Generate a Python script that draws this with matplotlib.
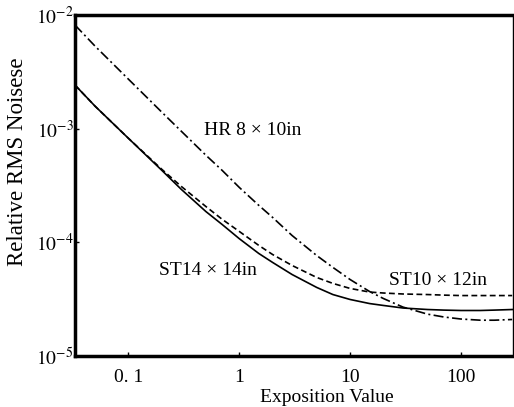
import numpy as np
import matplotlib.pyplot as plt

plt.rcParams['font.family'] = ['Liberation Serif', 'DejaVu Serif']
plt.rcParams['mathtext.fontset'] = 'stix'

# exposition values (x)
expo = [0.033, 0.05, 0.1, 0.2, 0.3, 0.5, 0.7, 1, 1.5, 2, 3, 5, 7, 10,
        15, 20, 30, 50, 70, 100, 150, 200, 290]

# relative RMS noise for each film
st14 = [2.42e-3, 1.58e-3, 8.24e-4, 4.31e-4, 2.93e-4, 1.87e-4, 1.44e-4,
        1.08e-4, 8.0e-5, 6.67e-5, 5.22e-5, 4.02e-5, 3.48e-5, 3.15e-5,
        2.90e-5, 2.79e-5, 2.65e-5, 2.57e-5, 2.54e-5, 2.52e-5, 2.52e-5,
        2.54e-5, 2.57e-5]
st10 = [2.42e-3, 1.58e-3, 8.24e-4, 4.40e-4, 3.11e-4, 2.07e-4, 1.60e-4,
        1.25e-4, 9.42e-5, 7.83e-5, 6.27e-5, 4.92e-5, 4.36e-5, 3.94e-5,
        3.66e-5, 3.59e-5, 3.52e-5, 3.48e-5, 3.44e-5, 3.41e-5, 3.41e-5,
        3.41e-5, 3.41e-5]
hr = [8.16e-3, 5.33e-3, 2.73e-3, 1.40e-3, 9.51e-4, 5.85e-4, 4.31e-4,
      3.05e-4, 2.12e-4, 1.66e-4, 1.15e-4, 7.67e-5, 6.03e-5, 4.72e-5,
      3.70e-5, 3.21e-5, 2.70e-5, 2.34e-5, 2.21e-5, 2.12e-5, 2.07e-5,
      2.07e-5, 2.10e-5]

xticks = [0.1, 1, 10, 100]
xticklabels = ['0. 1', '1', '10', '100']
yticks = [1e-5, 1e-4, 1e-3, 1e-2]
yticklabels = [r'$10^{-5}$', r'$10^{-4}$', r'$10^{-3}$', r'$10^{-2}$']

fig = plt.figure(figsize=(5.14, 4.07), dpi=100)
ax = fig.add_axes([0.146, 0.125, 0.852, 0.838])

ax.plot(expo, st14, color='black', lw=1.2, ls='-')
ax.plot(expo, st10, color='black', lw=1.2, ls=(0, (3.5, 2)))
ax.plot(expo, hr, color='black', lw=1.2, ls=(0, (6, 2, 1.2, 2)))

ax.set_xscale('log')
ax.set_yscale('log')
ax.set_xlim(0.033, 295)
ax.set_ylim(1e-5, 1e-2)

ax.set_xticks(xticks)
ax.set_xticklabels(xticklabels)
ax.set_yticks(yticks)
ax.set_yticklabels(yticklabels)
ax.minorticks_off()
ax.tick_params(axis='both', direction='in', length=3, width=1, labelsize=14)
ax.tick_params(axis='x', pad=9)
ax.tick_params(axis='y', pad=1)

for side in ['left', 'top', 'bottom']:
    ax.spines[side].set_linewidth(2.5)
ax.spines['right'].set_linewidth(1)

ax.set_xlabel('Exposition Value', fontsize=14)
ax.set_ylabel('Relative RMS Noisese', fontsize=16.5)
ax.xaxis.set_label_coords(0.575, -0.097)
ax.yaxis.set_label_coords(-0.108, 0.569)

ax.text(0.48, 9.7e-4, 'HR 8 × 10in', fontsize=14, va='center', ha='left')
ax.text(0.19, 5.66e-5, 'ST14 × 14in', fontsize=14, va='center', ha='left')
ax.text(22.4, 4.62e-5, 'ST10 × 12in', fontsize=14, va='center', ha='left')

fig.savefig('out.png', dpi=100)
